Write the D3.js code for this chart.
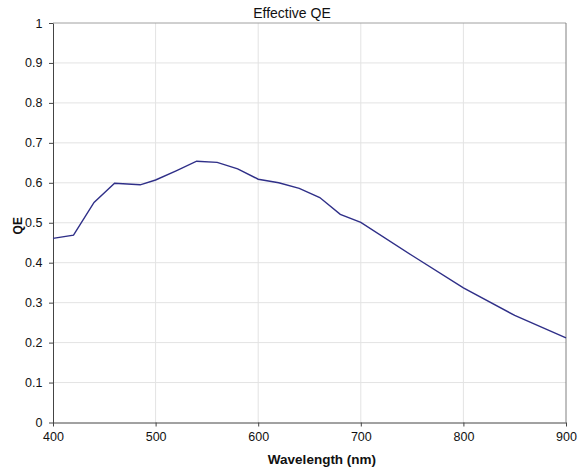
<!DOCTYPE html>
<html><head><meta charset="utf-8">
<script src="https://cdn.jsdelivr.net/npm/d3@7"></script>
<style>body{margin:0;background:#fff;} svg{display:block;font-family:"Liberation Sans",Arial,sans-serif;}</style>
</head><body>
<script>
const wavelengths = [400, 420, 440, 460, 485, 500, 520, 540, 560, 580, 600, 620, 640, 660, 680, 700, 750, 800, 850, 900];
const qeValues   = [0.461, 0.469, 0.551, 0.599, 0.595, 0.607, 0.630, 0.654, 0.651, 0.635, 0.609, 0.600, 0.586, 0.563, 0.521, 0.501, 0.418, 0.337, 0.268, 0.212];
const xTicks = [400, 500, 600, 700, 800, 900];
const yTicks = [0, 0.1, 0.2, 0.3, 0.4, 0.5, 0.6, 0.7, 0.8, 0.9, 1];
const title = "Effective QE";
const xLabel = "Wavelength (nm)";
const yLabel = "QE";

const W = 584, H = 467;
const m = {left: 53, right: 18, top: 23, bottom: 44.5};
const svg = d3.select("body").append("svg").attr("width", W).attr("height", H);
const x = d3.scaleLinear().domain([400, 900]).range([m.left, W - m.right]);
const y = d3.scaleLinear().domain([0, 1]).range([H - m.bottom, m.top]);

// gridlines
svg.append("g").selectAll("line").data(yTicks.filter(d => d > 0 && d < 1)).join("line")
  .attr("x1", x(400)).attr("x2", x(900)).attr("y1", d => y(d)).attr("y2", d => y(d))
  .attr("stroke", "#e3e3e3").attr("stroke-width", 1);
svg.append("g").selectAll("line").data(xTicks.filter(d => d > 400 && d < 900)).join("line")
  .attr("y1", y(0)).attr("y2", y(1)).attr("x1", d => x(d)).attr("x2", d => x(d))
  .attr("stroke", "#e3e3e3").attr("stroke-width", 1);

// top and right borders
svg.append("line").attr("x1", x(400)).attr("x2", x(900)).attr("y1", y(1)).attr("y2", y(1))
  .attr("stroke", "#a0a0a0").attr("stroke-width", 1);
svg.append("line").attr("x1", x(900)).attr("x2", x(900)).attr("y1", y(0)).attr("y2", y(1))
  .attr("stroke", "#808080").attr("stroke-width", 1);

// axes
const xAxis = svg.append("g").attr("transform", `translate(0,${y(0)})`)
  .call(d3.axisBottom(x).tickValues(xTicks).tickSize(4).tickSizeOuter(0).tickFormat(d3.format("d")));
const yAxis = svg.append("g").attr("transform", `translate(${x(400)},0)`)
  .call(d3.axisLeft(y).tickValues(yTicks).tickSize(4).tickSizeOuter(0).tickFormat(d => d === 0 ? "0" : d === 1 ? "1" : d3.format(".1f")(d)));
[xAxis, yAxis].forEach(g => {
  g.select(".domain").attr("stroke", "#444");
  g.selectAll(".tick line").attr("stroke", "#444");
  g.selectAll("text").attr("fill", "#111").style("font-size", "12.5px").style("font-family", "'Liberation Sans',Arial,sans-serif");
});
xAxis.selectAll("text").attr("dy", "0.95em");
yAxis.selectAll("text").attr("dx", "-0.28em");

// line
const line = d3.line().x((d, i) => x(wavelengths[i])).y(d => y(d));
svg.append("path").datum(qeValues).attr("d", line)
  .attr("fill", "none").attr("stroke", "#2f2f88").attr("stroke-width", 1.4);

// title and labels
svg.append("text").attr("x", W / 2).attr("y", 18).attr("text-anchor", "middle")
  .style("font-size", "14px").attr("fill", "#111").text(title);
svg.append("text").attr("x", 322).attr("y", 464).attr("text-anchor", "middle")
  .style("font-size", "13.5px").style("font-weight", "bold").attr("fill", "#111").text(xLabel);
svg.append("text").attr("transform", `translate(22,${(y(0) + y(1)) / 2 + 3}) rotate(-90)`).attr("text-anchor", "middle")
  .style("font-size", "12px").style("font-weight", "bold").attr("fill", "#111").text(yLabel);
</script>
</body></html>
